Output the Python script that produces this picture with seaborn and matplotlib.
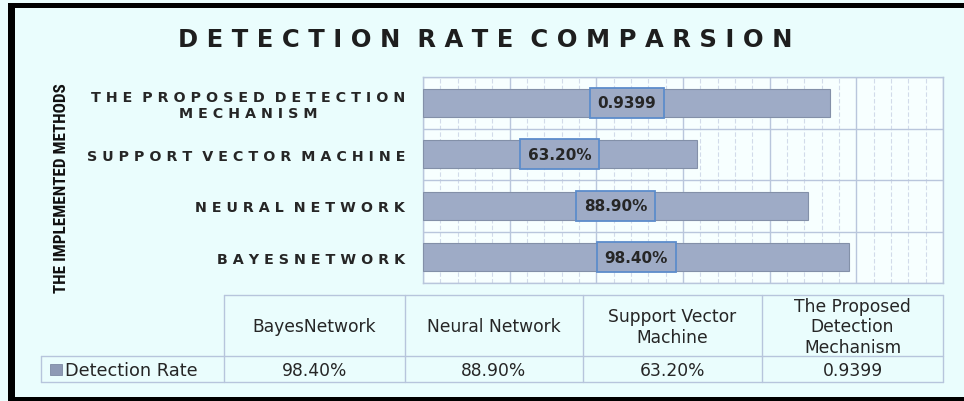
import matplotlib
matplotlib.use("Agg")
import matplotlib.pyplot as plt
from matplotlib import font_manager
import seaborn as sns
import pandas as pd
import numpy as np
from matplotlib.patches import Rectangle

# data, top bar first (as in the chart)
bar_methods = ["THE PROPOSED DETECTION\nMECHANISM", "SUPPORT VECTOR MACHINE",
               "NEURAL NETWORK", "BAYESNETWORK"]
bar_rates = [0.9399, 0.632, 0.889, 0.984]
bar_labels = ["0.9399", "63.20%", "88.90%", "98.40%"]

# data table, left to right
table_methods = ["BayesNetwork", "Neural Network", "Support Vector\nMachine",
                 "The Proposed\nDetection\nMechanism"]
table_values = ["98.40%", "88.90%", "63.20%", "0.9399"]
series_name = "Detection Rate"

bg = "#EAFDFD"
bar_col = "#9EABC6"
grid_col = "#B9C6DC"
text_col = "#262626"


def spaced(s):
    # wide letter tracking like the original
    return "\n".join("  ".join(" ".join(w) for w in line.split(" ")) for line in s.split("\n"))


# narrow bold font for the rotated axis title, if there is one
names = {f.name for f in font_manager.fontManager.ttflist}
narrow = "Liberation Sans"
for cand in ["Liberation Sans Narrow", "DejaVu Sans Condensed", "Roboto Condensed",
             "Open Sans Condensed"]:
    if cand in names:
        narrow = cand
        break

sns.set_theme(style="white")
plt.rcParams["font.family"] = ["DejaVu Sans"]

fig = plt.figure(figsize=(9.64, 4.02), dpi=100)
fig.patch.set_facecolor(bg)

W, H = 964, 402
ax = fig.add_axes([423 / W, 1 - 284 / H, (943 - 423) / W, (284 - 78) / H])
ax.set_facecolor("#F7FFFF")

df = pd.DataFrame({"method": [spaced(m) for m in bar_methods], "rate": bar_rates})
sns.barplot(data=df, x="rate", y="method", orient="h", color=bar_col, saturation=1,
            width=0.55, edgecolor="#8390A8", linewidth=0.8, ax=ax, zorder=3)

ax.set_xlim(0, 1.2)
ax.set_xticks(np.arange(0, 1.21, 0.2))
ax.set_xticks(np.arange(0, 1.21, 0.04), minor=True)
ax.grid(True, axis="x", which="major", color=grid_col, lw=1.0, zorder=0)
ax.grid(True, axis="x", which="minor", color="#D2DBEA", lw=0.8, ls=(0, (4, 2)), zorder=0)
for yb in np.arange(-0.5, len(bar_rates), 1.0):
    ax.axhline(yb, color=grid_col, lw=1.0, zorder=1)
ax.set_ylim(len(bar_rates) - 0.5, -0.5)
ax.tick_params(axis="x", which="both", length=0, labelbottom=False)
ax.tick_params(axis="y", length=0, pad=13, labelsize=10.3, labelcolor=text_col)
for lab in ax.get_yticklabels():
    lab.set_fontweight("bold")
    lab.set_multialignment("center")
ax.set_xlabel("")
ax.set_ylabel("")
for sp in ax.spines.values():
    sp.set_visible(True)
    sp.set_color(grid_col)
    sp.set_linewidth(1.0)

ax.bar_label(ax.containers[0], labels=bar_labels, label_type="center",
             fontsize=11, fontweight="bold", color=text_col,
             bbox=dict(boxstyle="square,pad=0.5", fc=bar_col, ec="#5C8CCB", lw=1.3))

fig.text(485 / W, 1 - 40 / H, spaced("DETECTION RATE COMPARSION"), ha="center", va="center",
         fontsize=17.5, fontweight="bold", color="#1E1E1E")
fig.text(61 / W, 1 - 188 / H, "THE IMPLEMENTED METHODS", rotation=90, ha="center", va="center",
         fontsize=12.3, fontweight="bold", color="#111111", family=[narrow, "DejaVu Sans"])

# overlay in pixel coordinates for the data table and the frame
ov = fig.add_axes([0, 0, 1, 1], zorder=5)
ov.set_xlim(0, W)
ov.set_ylim(H, 0)
ov.axis("off")
ov.patch.set_alpha(0)

col_edges = [224, 405, 583, 762, 943]
top, mid, bot = 296, 357, 383
tc = "#B7C5DC"
ov.plot([col_edges[0], col_edges[-1]], [top, top], color=tc, lw=1)
ov.plot([41, col_edges[-1]], [mid, mid], color=tc, lw=1)
ov.plot([41, col_edges[-1]], [bot, bot], color=tc, lw=1)
ov.plot([41, 41], [mid, bot], color=tc, lw=1)
for xe in col_edges:
    ov.plot([xe, xe], [top, bot], color=tc, lw=1)
for i, (name, val) in enumerate(zip(table_methods, table_values)):
    xc = (col_edges[i] + col_edges[i + 1]) / 2
    ov.text(xc, (top + mid) / 2 + 1, name, ha="center", va="center", fontsize=12.3,
            color=text_col, linespacing=1.15)
    ov.text(xc, (mid + bot) / 2 + 1, val, ha="center", va="center", fontsize=12.3,
            color=text_col)
ov.add_patch(Rectangle((50, 365), 12, 11, fc="#8E9AB5", ec="#7E8AA4", lw=0.6))
ov.text(65, (mid + bot) / 2 + 1, series_name, ha="left", va="center", fontsize=12.8,
        color=text_col)

# black frame (left, top, bottom)
ov.add_patch(Rectangle((8, 4), 7, 396, fc="black", ec="none"))
ov.add_patch(Rectangle((8, 4), W, 5, fc="black", ec="none"))
ov.add_patch(Rectangle((8, 398), W, 4, fc="black", ec="none"))

fig.savefig("out.png", dpi=100, facecolor=bg)
